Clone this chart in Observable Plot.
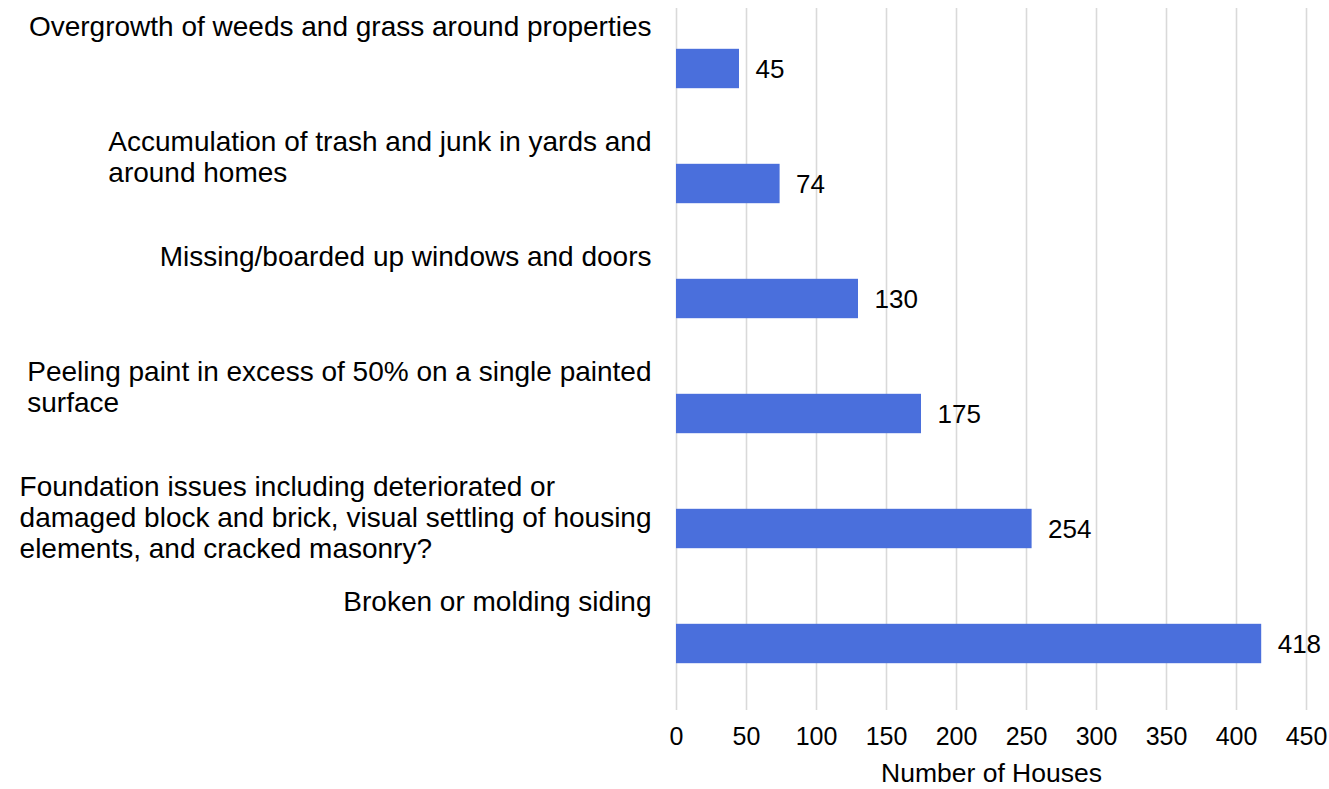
<!DOCTYPE html>
<html>
<head>
<meta charset="utf-8">
<script src="https://cdn.jsdelivr.net/npm/d3@7"></script>
<script src="https://cdn.jsdelivr.net/npm/@observablehq/plot@0.6"></script>
<style>
  html, body { margin: 0; padding: 0; background: #fff; }
  #chart svg { display: block; }
</style>
</head>
<body>
<div id="chart"></div>
<script>
const categories = [
  "Overgrowth of weeds and grass around properties",
  "Accumulation of trash and junk in yards and\naround homes",
  "Missing/boarded up windows and doors",
  "Peeling paint in excess of 50% on a single painted\nsurface",
  "Foundation issues including deteriorated or\ndamaged block and brick, visual settling of housing\nelements, and cracked masonry?",
  "Broken or molding siding"
];
const values = [45, 74, 130, 175, 254, 418];
const xTicks = [0, 50, 100, 150, 200, 250, 300, 350, 400, 450];
const xTitle = "Number of Houses";

const data = categories.map((c, i) => ({category: c, value: values[i]}));

const FONT = "Liberation Sans, Arial, Helvetica, sans-serif";
const LFS = 28;
const ctx = document.createElement("canvas").getContext("2d");
ctx.font = `${LFS}px "Liberation Sans", Arial, sans-serif`;
const blockWidth = s => Math.max(...s.split("\n").map(l => ctx.measureText(l).width));

const labelMarks = categories.map(c => Plot.text([c], {
  x: () => 0,
  y: () => c,
  text: d => d,
  textAnchor: "start",
  lineAnchor: "top",
  lineHeight: 31 / LFS,
  dx: -25 - blockWidth(c),
  dy: -55,
  fontSize: LFS,
  fill: "#000"
}));

const chart = Plot.plot({
  width: 1329,
  height: 789,
  marginLeft: 676,
  marginRight: 23,
  marginTop: 9,
  marginBottom: 86,
  style: {fontFamily: FONT, background: "#fff"},
  x: {domain: [0, 450], axis: null},
  y: {domain: categories, padding: 0, axis: null},
  marks: [
    Plot.ruleX(xTicks, {stroke: "#d9d9d9", strokeWidth: 1.6, insetTop: -1, insetBottom: -7}),
    Plot.barX(data, {x: "value", y: "category", fill: "#4a6fdc", insetTop: 37.8, insetBottom: 37.8}),
    Plot.text(data, {x: "value", y: "category", text: d => String(d.value), textAnchor: "start", dx: 16, dy: 1, fontSize: 26, fill: "#000"}),
    Plot.axisX(xTicks, {tickSize: 0, tickPadding: 24, fontSize: 25, color: "#000", label: null, tickFormat: d => String(d)}),
    Plot.text([xTitle], {frameAnchor: "bottom", lineAnchor: "middle", dy: 70, fontSize: 26.5, fill: "#000"}),
    ...labelMarks
  ]
});
document.getElementById("chart").appendChild(chart);
</script>
</body>
</html>
